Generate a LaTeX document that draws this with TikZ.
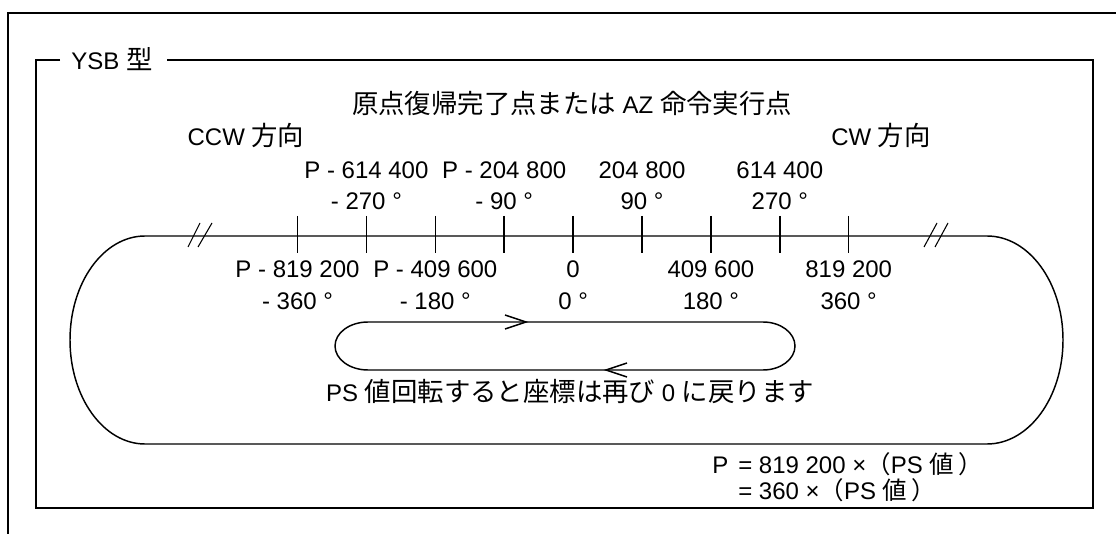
\documentclass[tikz,border=0pt]{standalone}
\usepackage{fontspec}
\setmainfont{Liberation Sans}
\newfontfamily\jp[Scale=1.1]{Noto Sans CJK JP}
\newfontfamily\jpf[Scale=1.02]{Noto Sans CJK JP}
\begin{document}
\begin{tikzpicture}[x=0.75pt,y=0.75pt,
  txt/.style={inner sep=0pt, font=\fontsize{18}{23.5}\selectfont, align=center},
  frameout/.style={line width=1.6pt},
  framein/.style={line width=0.8pt},
  curve/.style={line width=1.1pt},
  tickmark/.style={line width=1.1pt},
  hatch/.style={line width=0.8pt}]
\useasboundingbox (0,0) rectangle (1116,-534);
% outer frame
\draw[frameout] (1117,-13) -- (8,-13) -- (8,-535);
% inner frame with title
\node[txt] (title) at (112,-59) {YSB {\jp 型}};
\draw[framein] (60,-60) -- (36,-60) -- (36,-508) -- (1093,-508) -- (1093,-60) -- (167,-60);
% headings
\node[txt] (head) at (572,-103) {{\jp 原点復帰完了点または} AZ {\jp 命令実行点}};
\node[txt] (ccw) at (246,-135) {CCW {\jp 方向}};
\node[txt] (cw) at (881,-135) {CW {\jp 方向}};
% outer loop
\draw[curve] (145,-236) -- (987,-236) arc[start angle=90,end angle=-90,x radius=76,y radius=104]
  -- (145,-444) arc[start angle=270,end angle=90,x radius=75,y radius=104] -- cycle;
% hatch marks
\draw[hatch] (188,-247) -- (200,-223) (198,-247) -- (212,-223);
\draw[hatch] (924,-247) -- (937,-223) (935,-247) -- (948,-223);
% ticks
\foreach \i in {0,...,8} {
  \coordinate (t\i) at (297.5+68.9*\i,-236);
  \draw[tickmark] ([yshift=15pt]t\i) -- ([yshift=-12.75pt]t\i);
}
% upper labels
\node[txt] (u1) at ([yshift=37.8pt]t1) {P - 614 400\\- 270 °};
\node[txt] (u3) at ([yshift=37.8pt]t3) {P - 204 800\\- 90 °};
\node[txt] (u5) at ([yshift=37.8pt]t5) {204 800\\90 °};
\node[txt] (u7) at ([yshift=37.8pt]t7) {614 400\\270 °};
% lower labels
\node[txt] (l0) at ([yshift=-37pt]t0) {P - 819 200\\- 360 °};
\node[txt] (l2) at ([yshift=-37pt]t2) {P - 409 600\\- 180 °};
\node[txt] (l4) at ([yshift=-37pt]t4) {0\\0 °};
\node[txt] (l6) at ([yshift=-37pt]t6) {409 600\\180 °};
\node[txt] (l8) at ([yshift=-37pt]t8) {819 200\\360 °};
% inner loop
\draw[curve] (368,-322) -- (763,-322) arc[start angle=90,end angle=-90,x radius=32,y radius=24]
  -- (368,-370) arc[start angle=270,end angle=90,x radius=33,y radius=24] -- cycle;
\coordinate (a1) at (526,-322);
\coordinate (a2) at (606,-370);
\draw[curve] ([shift={(-21,7)}]a1) -- (a1) -- ([shift={(-21,-7)}]a1);
\draw[curve] ([shift={(21,7)}]a2) -- (a2) -- ([shift={(21,-7)}]a2);
\node[txt] (ps) at (570,-392) {PS {\jp 値回転すると座標は再び} 0 {\jp に戻ります}};
% formula
\node[txt, anchor=west] (fp) at (712,-465) {P};
\node[txt, anchor=north west, align=left, font=\fontsize{18}{20}\selectfont] (f) at (738,-452)
  {= 819 200 ×{\jpf （}PS {\jpf 値\,）}\\= 360 ×{\jpf （}PS {\jpf 値\,）}};
\end{tikzpicture}
\end{document}
